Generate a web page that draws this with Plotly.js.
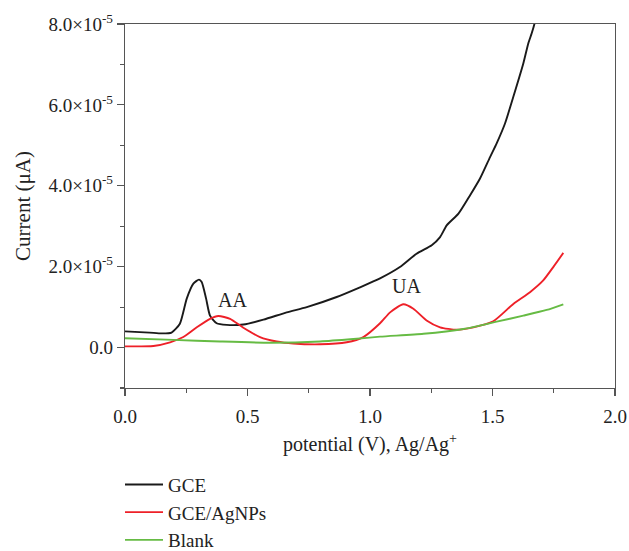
<!DOCTYPE html>
<html>
<head>
<meta charset="utf-8">
<script src="https://cdn.plot.ly/plotly-3.0.1.min.js"></script>
<style>html,body{margin:0;padding:0;background:#fff;}#chart{width:629px;height:551px;}</style>
</head>
<body>
<div id="chart"></div>
<script>
// Potential (V) and current (in units of 1e-5)
const gceX = [0.00, 0.10, 0.15, 0.19, 0.224, 0.252, 0.279, 0.302, 0.313, 0.331, 0.347, 0.374, 0.415, 0.483, 0.565, 0.66, 0.742, 0.864, 0.959, 1.041, 1.122, 1.19, 1.252, 1.286, 1.313, 1.361, 1.408, 1.449, 1.49, 1.517, 1.551, 1.585, 1.626, 1.646, 1.66, 1.671, 1.69];
const gceY = [0.40, 0.37, 0.35, 0.37, 0.59, 1.21, 1.58, 1.68, 1.62, 1.21, 0.79, 0.60, 0.56, 0.57, 0.69, 0.87, 1.00, 1.25, 1.49, 1.71, 1.99, 2.32, 2.53, 2.73, 3.02, 3.31, 3.76, 4.18, 4.71, 5.05, 5.54, 6.20, 7.03, 7.52, 7.77, 8.00, 8.60];

const agX = [0.00, 0.116, 0.184, 0.238, 0.293, 0.347, 0.381, 0.429, 0.483, 0.551, 0.619, 0.687, 0.796, 0.905, 0.973, 1.041, 1.082, 1.136, 1.177, 1.231, 1.286, 1.354, 1.422, 1.503, 1.585, 1.653, 1.707, 1.748, 1.789];
const agY = [0.03, 0.04, 0.13, 0.26, 0.50, 0.71, 0.78, 0.71, 0.49, 0.26, 0.15, 0.10, 0.08, 0.13, 0.26, 0.60, 0.87, 1.07, 0.96, 0.67, 0.50, 0.44, 0.50, 0.65, 1.08, 1.37, 1.66, 1.99, 2.34];

const blankX = [0.00, 0.197, 0.388, 0.592, 0.796, 0.932, 1.041, 1.218, 1.381, 1.517, 1.626, 1.721, 1.789];
const blankY = [0.23, 0.19, 0.15, 0.12, 0.15, 0.21, 0.27, 0.34, 0.46, 0.64, 0.79, 0.93, 1.07];

const scale = 1e-5;
const yTickVals = [0, 2, 4, 6, 8];
const yTickText = ['0.0', '2.0×10<sup>-5</sup>', '4.0×10<sup>-5</sup>', '6.0×10<sup>-5</sup>', '8.0×10<sup>-5</sup>'];
const xTickVals = [0, 0.5, 1.0, 1.5, 2.0];
const xTickText = ['0.0', '0.5', '1.0', '1.5', '2.0'];

const seriesNames = ['GCE', 'GCE/AgNPs', 'Blank'];
const seriesColors = ['#1a1a1a', '#ee2028', '#66bb44'];
const seriesX = [gceX, agX, blankX];
const seriesY = [gceY, agY, blankY];

const notes = [
  {text: 'AA', x: 0.44, y: 1.17},
  {text: 'UA', x: 1.148, y: 1.53}
];

const FONT = 'Liberation Serif, Times New Roman, serif';

const traces = seriesNames.map((n, i) => ({
  type: 'scatter', mode: 'lines', name: n,
  x: seriesX[i], y: seriesY[i].map(v => v * scale),
  line: {color: seriesColors[i], width: 1.9, shape: 'spline', smoothing: 0.6},
  cliponaxis: true
}));

const axisCommon = {
  showgrid: false, zeroline: false, showline: true, linecolor: '#555', linewidth: 1.2,
  mirror: true, ticks: 'outside', tickcolor: '#555', tickwidth: 1.2, ticklen: 7,
  automargin: false,
  tickfont: {family: FONT, size: 19, color: '#222'}
};

const layout = {
  width: 629, height: 551,
  margin: {l: 125, r: 14, t: 24, b: 163, autoexpand: false},
  paper_bgcolor: '#fff', plot_bgcolor: '#fff',
  showlegend: true,
  legend: {x: -0.0102, xanchor: 'left', yref: 'container', y: 0.155, yanchor: 'top', orientation: 'v', itemwidth: 38,
           font: {family: FONT, size: 19, color: '#222'}, bgcolor: 'rgba(0,0,0,0)', tracegroupgap: 0},
  xaxis: Object.assign({}, axisCommon, {
    range: [0, 2], tickmode: 'array', tickvals: xTickVals, ticktext: xTickText, ticklabelstandoff: 4,
    minor: {dtick: 0.25, tick0: 0, ticks: 'outside', ticklen: 4, tickcolor: '#555', tickwidth: 1.2, showgrid: false},
    title: {text: 'potential (V), Ag/Ag<sup>+</sup>', font: {family: FONT, size: 20, color: '#222'}, standoff: 11}
  }),
  yaxis: Object.assign({}, axisCommon, {
    range: [-1 * scale, 8 * scale], tickmode: 'array',
    tickvals: yTickVals.map(v => v * scale), ticktext: yTickText,
    minor: {dtick: 1 * scale, tick0: 0, ticks: 'outside', ticklen: 4, tickcolor: '#555', tickwidth: 1.2, showgrid: false},
    title: {text: 'Current (μA)', font: {family: FONT, size: 21, color: '#222'}, standoff: 12}
  }),
  annotations: notes.map(a => ({
    text: a.text, x: a.x, y: a.y * scale, xref: 'x', yref: 'y', showarrow: false,
    font: {family: FONT, size: 20, color: '#222'}
  }))
};

Plotly.newPlot('chart', traces, layout, {displayModeBar: false, staticPlot: true});
</script>
</body>
</html>
